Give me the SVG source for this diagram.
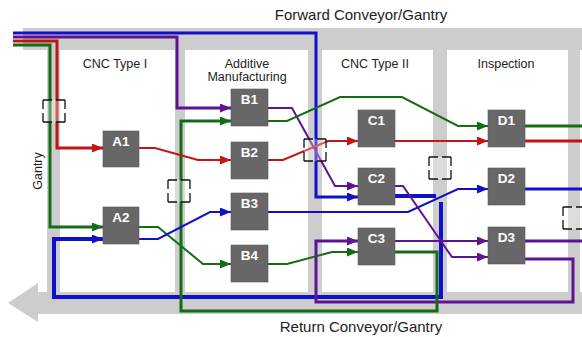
<svg xmlns="http://www.w3.org/2000/svg" width="582" height="337" viewBox="0 0 582 337">
  <style>
    .lbl { font-family: "Liberation Sans", Arial, sans-serif; fill: #222; }
    .stage { font-size: 12.5px; text-anchor: middle; }
    .conv { font-size: 15px; text-anchor: middle; }
    .node rect { fill: #676767; stroke: #5a5a5a; stroke-width: 0.6; }
    .node text { font-family: "Liberation Sans", Arial, sans-serif; font-weight: bold; font-size: 13.5px; fill: #fff; text-anchor: middle; }
    .panel { fill: #fff; }
    .xfer { fill: #fff; fill-opacity: 0.3; stroke: #111; stroke-width: 1.3; stroke-dasharray: 9 4 9 0; }
    .w { fill: none; stroke-linejoin: miter; }
    .r { stroke: #c41414; }
    .g { stroke: #146c14; }
    .b { stroke: #1010cc; }
    .p { stroke: #5e1490; }
    .thin { stroke-width: 2; }
    .mid { stroke-width: 3; }
    .thick { stroke-width: 4; }
  </style>
  <defs>
    <marker id="ar" markerUnits="userSpaceOnUse" markerWidth="11" markerHeight="9" refX="11" refY="4.5" orient="auto"><path d="M0,0 L11,4.5 L0,9 Z" fill="#c41414"/></marker>
    <marker id="ag" markerUnits="userSpaceOnUse" markerWidth="11" markerHeight="9" refX="11" refY="4.5" orient="auto"><path d="M0,0 L11,4.5 L0,9 Z" fill="#146c14"/></marker>
    <marker id="ab" markerUnits="userSpaceOnUse" markerWidth="11" markerHeight="9" refX="11" refY="4.5" orient="auto"><path d="M0,0 L11,4.5 L0,9 Z" fill="#1010cc"/></marker>
    <marker id="ap" markerUnits="userSpaceOnUse" markerWidth="11" markerHeight="9" refX="11" refY="4.5" orient="auto"><path d="M0,0 L11,4.5 L0,9 Z" fill="#5e1490"/></marker>
  </defs>

  <rect width="582" height="337" fill="#fff"/>

  <!-- conveyor / gantry structure -->
  <g id="structure" fill="#cdcdcd">
    <rect x="23" y="28" width="559" height="22"/>
    <rect x="47" y="28" width="535" height="286"/>
    <polygon points="8,303 38,283 38,292 60,292 60,314 38,314 38,322"/>
  </g>

  <!-- work cells -->
  <g id="cells">
    <rect class="panel" x="60" y="50" width="115" height="242"/>
    <rect class="panel" x="185" y="50" width="123" height="242"/>
    <rect class="panel" x="322" y="50" width="111" height="242"/>
    <rect class="panel" x="447" y="50" width="121" height="242"/>
    <rect class="panel" x="580" y="50" width="4" height="242"/>
  </g>

  <g id="labels" class="lbl">
    <text class="conv" x="361" y="20">Forward Conveyor/Gantry</text>
    <text class="conv" x="361" y="332">Return Conveyor/Gantry</text>
    <text class="stage" x="115" y="68">CNC Type I</text>
    <text class="stage" x="247" y="68">Additive</text>
    <text class="stage" x="247" y="81">Manufacturing</text>
    <text class="stage" x="375" y="68">CNC Type II</text>
    <text class="stage" x="506" y="68">Inspection</text>
    <text class="stage" transform="translate(42,171) rotate(-90)">Gantry</text>
  </g>

  <!-- material flow -->
  <g id="connectors" class="w">
    <!-- return loops -->
    <path class="b thick" d="M395,196 H436"/>
    <path class="b thick" d="M441,202 V297 H54 V239 H103" marker-end="url(#ab)"/>
    <path class="p mid" d="M525,259 H573 V302 H316 V241 H358" marker-end="url(#ap)"/>
    <path class="g mid" d="M395,252 H437 V311 H181 V121 H231" marker-end="url(#ag)"/>

    <!-- incoming bundle -->
    <path class="b mid" d="M13,33 H316 V197 H358" marker-end="url(#ab)"/>
    <path class="p mid" d="M13,37 H177 V108 H231" marker-end="url(#ap)"/>
    <path class="r mid" d="M13,41 H57 V148 H103" marker-end="url(#ar)"/>
    <path class="g mid" d="M13,45 H50 V227 H103" marker-end="url(#ag)"/>

    <!-- cell to cell -->
    <path class="r thin" d="M139,148 H155 L198,160 H231" marker-end="url(#ar)"/>
    <path class="g thin" d="M139,227 H158 L203,264 H231" marker-end="url(#ag)"/>
    <path class="b thin" d="M139,239 H158 L210,212 H231" marker-end="url(#ab)"/>
    <path class="p thin" d="M268,108 H292 L335,186 H358" marker-end="url(#ap)"/>
    <path class="g thin" d="M268,121 H287 L340,97 H402 L458,126 H488" marker-end="url(#ag)"/>
    <path class="r thin" d="M268,160 H283 L328,141 H358" marker-end="url(#ar)"/>
    <path class="b thin" d="M268,212 H408 L458,189 H488" marker-end="url(#ab)"/>
    <path class="g thin" d="M268,264 H287 L332,252 H358" marker-end="url(#ag)"/>
    <path class="r thin" d="M395,141 H488" marker-end="url(#ar)"/>
    <path class="p thin" d="M395,186 H403 L445,247 L452,257 H488" marker-end="url(#ap)"/>
    <path class="p thin" d="M395,241 H488" marker-end="url(#ap)"/>

    <!-- outgoing -->
    <path class="g mid" d="M525,126 H582"/>
    <path class="r mid" d="M525,141 H582"/>
    <path class="b mid" d="M525,189 H582"/>
    <path class="p mid" d="M525,241 H582"/>
  </g>

  <!-- gantry transfer points -->
  <g id="transfers">
    <rect class="xfer" x="43" y="100" width="22" height="22"/>
    <rect class="xfer" x="168" y="180" width="22" height="22"/>
    <rect class="xfer" x="304" y="139" width="22" height="22"/>
    <rect class="xfer" x="429" y="157" width="22" height="22"/>
    <rect class="xfer" x="563" y="207" width="22" height="22"/>
  </g>

  <!-- machines -->
  <g id="A1" class="node"><rect x="103" y="131" width="36" height="36"/><text x="121" y="146">A1</text></g>
  <g id="A2" class="node"><rect x="103" y="207" width="36" height="37"/><text x="121" y="222">A2</text></g>
  <g id="B1" class="node"><rect x="231" y="89" width="37" height="37"/><text x="249.5" y="104">B1</text></g>
  <g id="B2" class="node"><rect x="231" y="142" width="37" height="37"/><text x="249.5" y="157">B2</text></g>
  <g id="B3" class="node"><rect x="231" y="193" width="37" height="37"/><text x="249.5" y="208">B3</text></g>
  <g id="B4" class="node"><rect x="231" y="245" width="37" height="37"/><text x="249.5" y="260">B4</text></g>
  <g id="C1" class="node"><rect x="358" y="110" width="37" height="37"/><text x="376.5" y="125">C1</text></g>
  <g id="C2" class="node"><rect x="358" y="168" width="37" height="37"/><text x="376.5" y="183">C2</text></g>
  <g id="C3" class="node"><rect x="358" y="228" width="37" height="37"/><text x="376.5" y="243">C3</text></g>
  <g id="D1" class="node"><rect x="488" y="110" width="37" height="37"/><text x="506.5" y="125">D1</text></g>
  <g id="D2" class="node"><rect x="488" y="168" width="37" height="37"/><text x="506.5" y="183">D2</text></g>
  <g id="D3" class="node"><rect x="488" y="227" width="37" height="37"/><text x="506.5" y="242">D3</text></g>
</svg>
